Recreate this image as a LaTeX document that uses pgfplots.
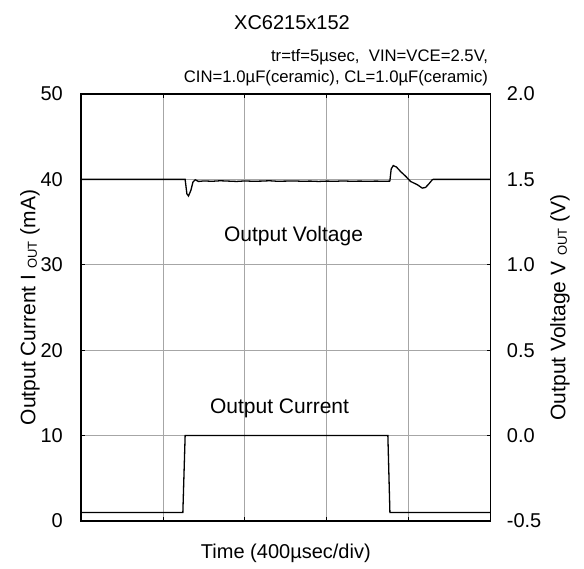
\documentclass[border=0pt]{standalone}
\usepackage{fontspec}
\setmainfont{Liberation Sans}
\usepackage{pgfplots}
\pgfplotsset{compat=1.18}
\newcommand{\sub}[1]{\raisebox{-1.5bp}{\fontsize{13bp}{13bp}\selectfont #1}}
\begin{document}
\begin{tikzpicture}
\useasboundingbox (0,0) rectangle (584bp,569bp);
\pgfplotsset{
  every axis/.style={
    scale only axis, width=409.7bp, height=427bp,
    at={(81bp,48bp)}, anchor=south west,
    xmin=0, xmax=5,
    /pgf/number format/assume math mode=true,
    tick label style={font=\fontsize{20bp}{24bp}\selectfont},
    label style={font=\fontsize{21bp}{25bp}\selectfont},
    tick align=inside, major tick length=4bp,
    axis line style={black, line width=1.1bp},
    every tick/.style={black, line width=0.8bp},
  }
}
\begin{axis}[
  ymin=0, ymax=50, ytick={0,10,...,50},
  xtick={0,1,...,5}, xticklabels={},
  grid=major, grid style={gray!70, line width=0.8bp},
  yticklabel style={inner sep=0pt, anchor=east, xshift=-18bp},
  xlabel={Time (400µsec/div)},
  xlabel style={font=\fontsize{20bp}{24bp}\selectfont, at={(rel axis cs:0.5,-0.0749)}, anchor=center},
  ylabel={Output Current I \sub{OUT} (mA)},
  ylabel style={at={(rel axis cs:-0.1245,0.5)}, anchor=center, rotate=0},
  clip=false,
]
\addplot[black, line width=1.3bp] coordinates {
 (0,1.0) (1.243,1.0) (1.271,10.0) (3.745,10.0) (3.770,1.0) (5,1.0)
};
\node[font=\fontsize{21bp}{25bp}\selectfont] at (axis cs:2.594,33.4) {Output Voltage};
\node[font=\fontsize{21bp}{25bp}\selectfont] at (axis cs:2.423,13.2) {Output Current};
\node[font=\fontsize{20bp}{24bp}\selectfont] at (rel axis cs:0.515,1.1675) {XC6215x152};
\node[font=\fontsize{16.7bp}{20bp}\selectfont, anchor=east, inner sep=0pt] at (rel axis cs:0.994,1.087) {tr=tf=5µsec,\ \ VIN=VCE=2.5V,};
\node[font=\fontsize{16.7bp}{20bp}\selectfont, anchor=east, inner sep=0pt] at (rel axis cs:0.994,1.0374) {CIN=1.0µF(ceramic), CL=1.0µF(ceramic)};
\end{axis}
\begin{axis}[
  axis x line=none, axis y line*=right,
  ymin=-0.5, ymax=2.0, ytick={-0.5,0,0.5,1,1.5,2},
  yticklabel style={inner sep=0pt, anchor=west, xshift=16bp,
    /pgf/number format/.cd, fixed, fixed zerofill, precision=1},
  ylabel={Output Voltage V \sub{OUT} (V)},
  ylabel style={at={(rel axis cs:1.169,0.5)}, anchor=center, rotate=0},
]
\addplot[black, line width=1.3bp] coordinates {
 (0,1.500) (1.271,1.500) (1.292,1.416) (1.312,1.403) (1.341,1.436)
 (1.366,1.484) (1.394,1.498) (1.434,1.488) (1.50,1.491) (1.60,1.489)
 (1.70,1.492) (1.80,1.490) (1.90,1.488) (2.00,1.491) (2.10,1.489)
 (2.20,1.490) (2.30,1.492) (2.40,1.489) (2.50,1.490) (2.60,1.491)
 (2.70,1.489) (2.80,1.490) (2.90,1.488) (3.00,1.490) (3.10,1.489)
 (3.20,1.491) (3.30,1.489) (3.40,1.490) (3.50,1.489) (3.60,1.490)
 (3.70,1.489) (3.769,1.490) (3.786,1.562) (3.811,1.581) (3.851,1.572)
 (3.900,1.546) (3.961,1.519) (4.022,1.488) (4.104,1.469) (4.165,1.449)
 (4.205,1.453) (4.246,1.474) (4.287,1.498) (4.30,1.500) (5,1.500)
};
\end{axis}
\end{tikzpicture}
\end{document}
